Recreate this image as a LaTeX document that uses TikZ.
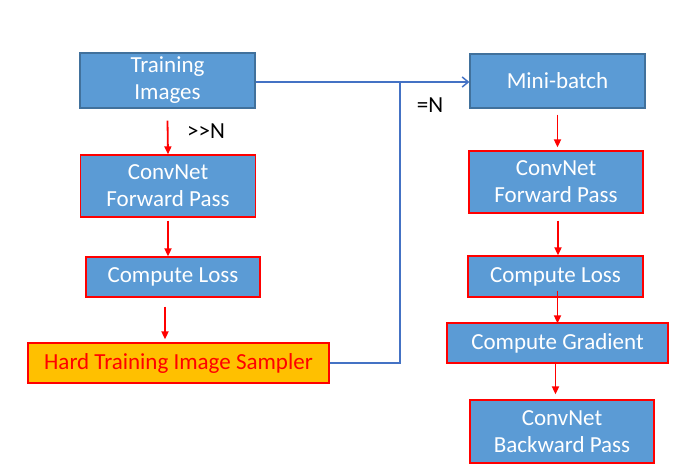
\documentclass[tikz,border=0pt]{standalone}
\usepackage{fontspec}
\setmainfont{Carlito}
\usepackage{xcolor}
\usepackage{tikz}
\usetikzlibrary{arrows.meta,positioning,calc}
\definecolor{boxfill}{HTML}{5B9BD5}
\definecolor{boxline}{HTML}{41719C}
\definecolor{hardfill}{HTML}{FFC000}
\definecolor{linkblue}{HTML}{4472C4}

\begin{document}
\begin{tikzpicture}[x=1pt, y=-1pt, every node/.style={font=\fontsize{23}{27}\selectfont, align=center, inner sep=0pt},
  blk/.style={fill=boxfill, draw=red, line width=1.3pt, text=white},
  redarr/.style={red, line width=1.8pt, -{Triangle[length=8pt,width=7pt]}},
  bluelink/.style={linkblue, line width=1.5pt}]
\useasboundingbox (0,0) rectangle (680,473);
% left column
\node[blk, draw=boxline, minimum width=175pt, minimum height=55pt] (ti) at (167.5,80.5) {Training\\Images};
\node[blk, minimum width=175pt, minimum height=62pt] (cfpL) at (168,186) {ConvNet\\Forward Pass};
\node[blk, minimum width=174pt, minimum height=40pt] (clL) at (173,277) {Compute Loss};
\node[blk, fill=hardfill, text=red, minimum width=301pt, minimum height=40pt] (hard) at (178.5,363) {Hard Training Image Sampler};
% right column
\node[blk, draw=boxline, minimum width=175pt, minimum height=54pt] (mb) at (557.5,81) {Mini-batch};
\node[blk, minimum width=174pt, minimum height=62pt] (cfpR) at (556,182) {ConvNet\\Forward Pass};
\node[blk, minimum width=175pt, minimum height=41pt] (clR) at (555.5,276.5) {Compute Loss};
\node[blk, minimum width=221pt, minimum height=40pt] (cg) at (557.5,343) {Compute Gradient};
\node[blk, minimum width=184pt, minimum height=63pt] (cbp) at (562,431.5) {ConvNet\\Backward Pass};
% labels
\node[font=\fontsize{23}{25}\selectfont] (many) at (206,131) {{>}{>}N};
\node[font=\fontsize{23}{25}\selectfont] (equal) at (430,105) {=N};
% red arrows
\draw[redarr] ($(ti.south)+(0,12)$) -- (cfpL.north);
\draw[redarr] ($(cfpL.south)+(0,3)$) -- (cfpL.south |- clL.north);
\draw[redarr] ($(clL.south)+(-8,9)$) -- ($(clL.south |- hard.north)+(-8,-3)$);
\draw[redarr] ($(mb.south)+(0,6)$) -- ($(mb.south |- cfpR.north)+(0,-3)$);
\draw[redarr] ($(cfpR.south)+(2,7)$) -- ($(cfpR.south |- clR.north)+(2,0)$);
\draw[redarr] ($(clR.south)+(2,-7)$) -- ($(clR.south |- cg.north)+(2,1)$);
\draw[redarr] ($(cg.south)+(-2,-2)$) -- ($(cg.south |- cbp.north)+(-2,-5)$);
% blue links
\coordinate (join) at (400,82);
\draw[bluelink, -{Straight Barb[length=6pt,width=10pt]}] (ti.east |- join) -- (mb.west |- join);
\draw[bluelink] (hard.east) -| (join);
\end{tikzpicture}
\end{document}
